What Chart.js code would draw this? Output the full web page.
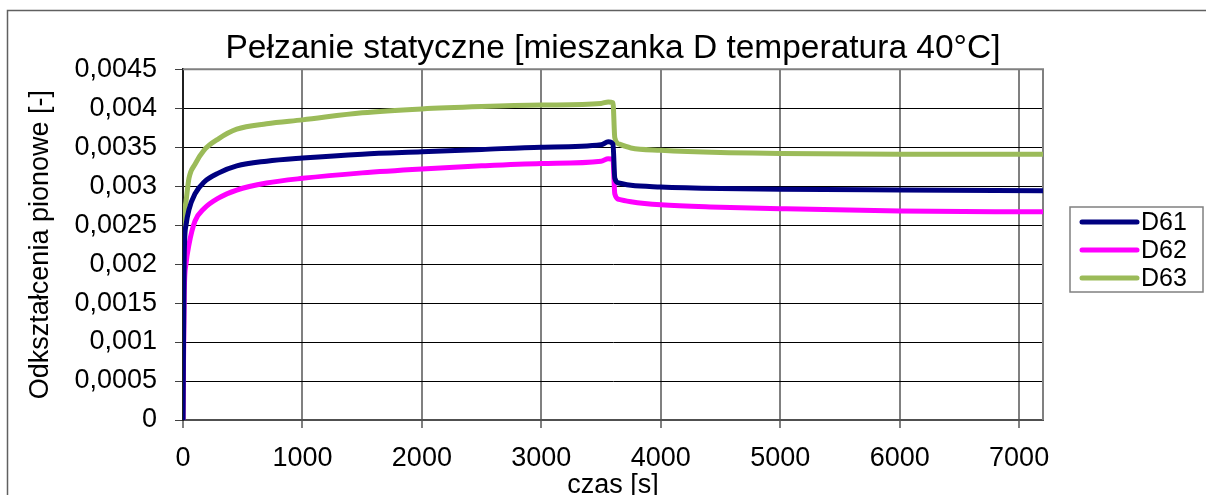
<!DOCTYPE html>
<html>
<head>
<meta charset="utf-8">
<script src="https://cdn.jsdelivr.net/npm/chart.js@4.4.1/dist/chart.umd.min.js"></script>
<style>
  html, body { margin: 0; padding: 0; background: #fff; }
  #wrap { width: 1206px; height: 495px; }
</style>
</head>
<body>
<div id="wrap"><canvas id="myChart" width="1206" height="495"></canvas></div>
<script>
/* dane */
const czas = [0, 10, 25, 50, 100, 175, 300, 450, 700, 1000, 1500, 2000, 2500, 3000, 3500, 3560, 3600, 3615, 3650, 3750, 4000, 4500, 5000, 6000, 7200];

const D61 = [0, 0.0021, 0.0025, 0.0027, 0.0029, 0.00305, 0.00317, 0.00326, 0.00332, 0.00336, 0.00341, 0.00344, 0.00347, 0.0035, 0.00353, 0.00357, 0.00354, 0.0031, 0.00304, 0.00301, 0.00299, 0.00297, 0.00296, 0.00295, 0.00294];
const D62 = [0, 0.0016, 0.002, 0.00225, 0.00255, 0.00271, 0.00285, 0.00295, 0.00304, 0.0031, 0.00317, 0.00322, 0.00326, 0.00329, 0.00332, 0.00335, 0.00334, 0.0029, 0.00283, 0.0028, 0.00276, 0.00273, 0.00271, 0.00268, 0.00267];
const D63 = [0, 0.0024, 0.0028, 0.0031, 0.00328, 0.00346, 0.00361, 0.00373, 0.0038, 0.00385, 0.00394, 0.00399, 0.00402, 0.00404, 0.00406, 0.00408, 0.00407, 0.00362, 0.00354, 0.00349, 0.00346, 0.00343, 0.00342, 0.00341, 0.00341];

const ticksX = [0, 1000, 2000, 3000, 4000, 5000, 6000, 7000];
const ticksY = [0, 0.0005, 0.001, 0.0015, 0.002, 0.0025, 0.003, 0.0035, 0.004, 0.0045];

const serie = ['D61', 'D62', 'D63'];
const kolory = ['#000080', '#FF00FF', '#9BBB59'];
const tytul = 'Pełzanie statyczne [mieszanka D temperatura 40°C]';

const font = '"Liberation Sans", Arial, sans-serif';

function punkty(ys) {
  return czas.map((t, i) => ({ x: t, y: ys[i] }));
}

/* ramka, obramowanie wykresu i legenda */
const ramka = {
  id: 'ramka',
  beforeDraw(chart) {
    const c = chart.ctx;
    c.save();
    c.strokeStyle = '#606060';
    c.lineWidth = 1.5;
    c.beginPath();
    c.moveTo(7.5, 495);
    c.lineTo(7.5, 10.5);
    c.lineTo(1206, 10.5);
    c.stroke();
    c.restore();
  },
  beforeDatasetsDraw(chart) {
    const a = chart.chartArea;
    const c = chart.ctx;
    c.save();
    c.strokeStyle = '#808080';
    c.lineWidth = 2;
    c.beginPath();
    c.moveTo(a.left, a.top);
    c.lineTo(a.right, a.top);
    c.lineTo(a.right, a.bottom);
    c.stroke();
    c.restore();
  },
  afterDraw(chart) {
    const a = chart.chartArea;
    const c = chart.ctx;
    const x0 = a.right + 27, y0 = 207, w = 133, h = 85;
    c.save();
    c.fillStyle = '#fff';
    c.fillRect(x0, y0, w, h);
    c.strokeStyle = '#808080';
    c.lineWidth = 1.5;
    c.strokeRect(x0, y0, w, h);
    c.font = '25px ' + font;
    c.textBaseline = 'middle';
    chart.data.datasets.forEach((ds, i) => {
      const y = y0 + 15 + i * 28;
      c.strokeStyle = ds.borderColor;
      c.lineWidth = 5;
      c.lineCap = 'round';
      c.beginPath();
      c.moveTo(x0 + 12, y);
      c.lineTo(x0 + 67, y);
      c.stroke();
      c.fillStyle = '#000';
      c.fillText(ds.label, x0 + 71, y + 1);
    });
    c.restore();
  }
};

const ctx = document.getElementById('myChart');
var config = {
  type: 'line',
  data: {
    datasets: serie.map((s, i) => ({
      label: s,
      data: punkty([D61, D62, D63][i]),
      borderColor: kolory[i],
      backgroundColor: kolory[i],
      borderWidth: 5,
      pointRadius: 0,
      borderCapStyle: 'round',
      borderJoinStyle: 'round',
      cubicInterpolationMode: 'monotone',
      fill: false
    }))
  },
  options: {
    responsive: false,
    animation: false,
    layout: { padding: { left: 0, top: 0, right: 163, bottom: 0 } },
    plugins: {
      legend: { display: false },
      tooltip: { enabled: false },
      title: {
        display: true,
        text: tytul,
        fullSize: false,
        color: '#000',
        font: { family: font, size: 33.5, weight: 'normal' },
        padding: { top: 29, bottom: 0 }
      }
    },
    scales: {
      x: {
        type: 'linear',
        min: 0,
        max: 7200,
        afterFit: (s) => { s.height = 75; },
        afterBuildTicks: (s) => { s.ticks = ticksX.map(v => ({ value: v })); },
        ticks: {
          padding: 14,
          maxRotation: 0,
          autoSkip: false,
          color: '#000',
          font: { family: font, size: 27 },
          callback: (v) => String(v)
        },
        grid: { color: '#808080', lineWidth: 2, tickLength: 8, tickColor: '#808080' },
        border: { color: '#505050', width: 2 },
        title: {
          display: true,
          text: 'czas [s]',
          color: '#000',
          font: { family: font, size: 27 },
          padding: { top: 0, bottom: -7 }
        }
      },
      y: {
        min: 0,
        max: 0.0045,
        afterFit: (s) => { s.width = 183; },
        afterBuildTicks: (s) => { s.ticks = ticksY.map(v => ({ value: v })); },
        ticks: {
          padding: 18,
          autoSkip: false,
          color: '#000',
          font: { family: font, size: 27 },
          callback: (v) => String(+v.toFixed(4)).replace('.', ',')
        },
        grid: { color: '#000', lineWidth: 1, tickLength: 8, tickColor: '#404040' },
        border: { color: '#202020', width: 2 },
        title: {
          display: true,
          text: 'Odkształcenia pionowe [-]',
          color: '#000',
          font: { family: font, size: 27 },
          padding: { top: 24, bottom: 0 }
        }
      }
    }
  },
  plugins: [ramka]
};

var myChart = new Chart(ctx, config);
</script>
</body>
</html>
